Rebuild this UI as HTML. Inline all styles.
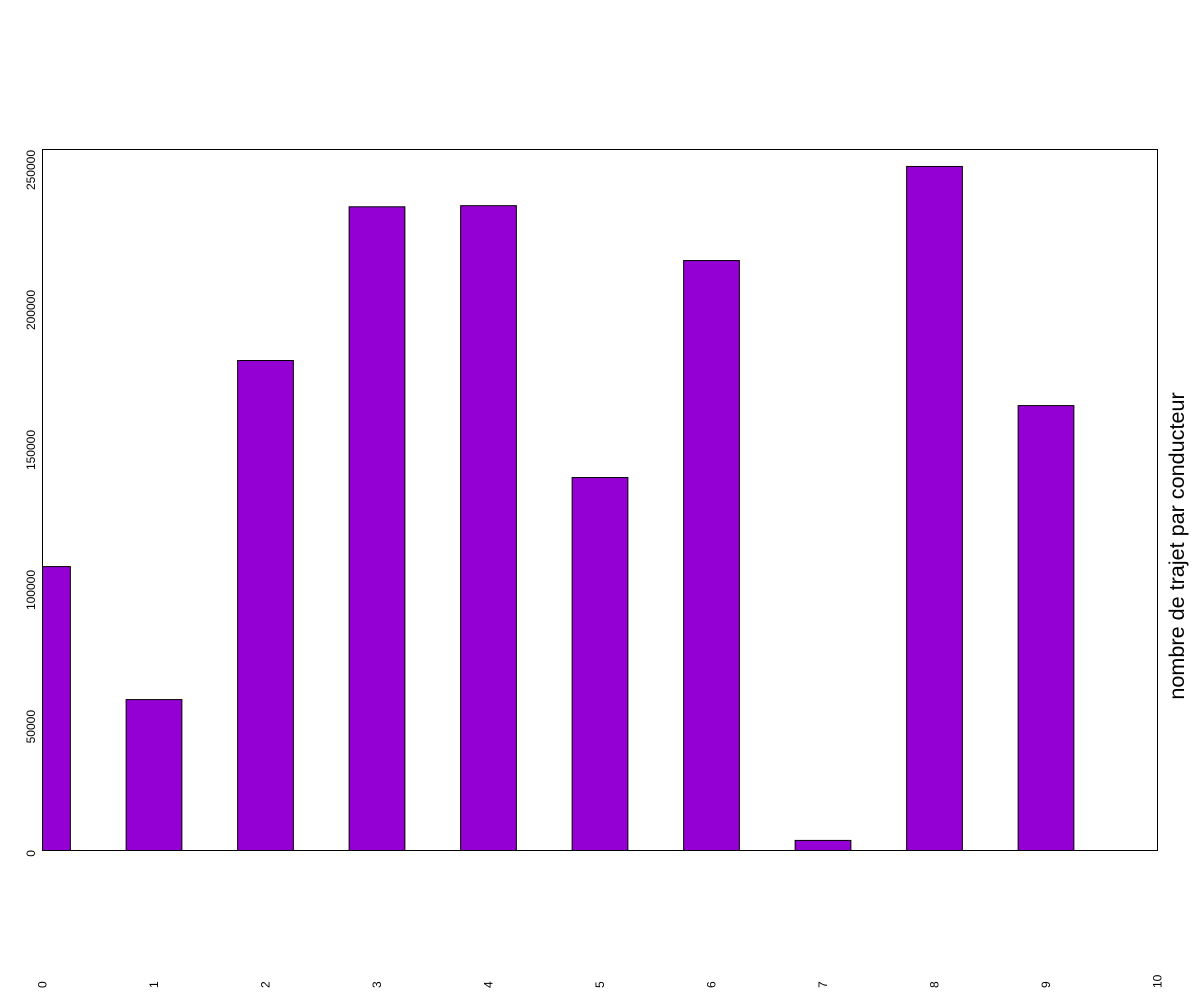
<!DOCTYPE html>
<html><head><meta charset="utf-8"><style>
html,body{margin:0;padding:0;background:#fff;}
svg{display:block;font-family:"Liberation Sans",sans-serif;}
</style></head><body>
<svg id="chart" width="1200" height="1000" viewBox="0 0 1200 1000" xmlns="http://www.w3.org/2000/svg">
<g id="bars"></g>
<g id="axes"></g>
<rect x="42.5" y="149.5" width="1115" height="701" fill="none" stroke="#000" stroke-width="1"/>
<text transform="translate(1184,546) rotate(-90)" text-anchor="middle" font-size="21.6">nombre de trajet par conducteur</text>
</svg>
<script>
const categories = [0,1,2,3,4,5,6,7,8,9];
const values = [101400,53900,175000,229900,230300,133200,210700,3600,244300,158900];
const yTicks = [0,50000,100000,150000,200000,250000];
const xTicks = [0,1,2,3,4,5,6,7,8,9,10];
const NS='http://www.w3.org/2000/svg';
const L=42.5,R=1157.5,T=150.5,B=850.5;
const xMin=0,xMax=10,yMax=250000;
const xs=v=>L+(v-xMin)/(xMax-xMin)*(R-L);
const ys=v=>B-v/yMax*(B-T);
const bw=0.5*(R-L)/(xMax-xMin);
const bars=document.getElementById('bars');
const axes=document.getElementById('axes');
categories.forEach((c,i)=>{
  let x0=Math.max(L,xs(c)-bw/2), x1=Math.min(R,xs(c)+bw/2);
  const r=document.createElementNS(NS,'rect');
  
  
  r.setAttribute('x',x0);r.setAttribute('y',ys(values[i]));
  r.setAttribute('width',x1-x0);r.setAttribute('height',B-ys(values[i]));
  r.setAttribute('fill','#9400d3');r.setAttribute('stroke','#000');r.setAttribute('stroke-width','1');
  bars.appendChild(r);
});
yTicks.forEach(t=>{
  const y=ys(t);
  const tx=document.createElementNS(NS,'text');
  
  
  tx.setAttribute('transform','translate(35,'+(y-0.5)+') rotate(-90)');
  tx.setAttribute('text-anchor','end');tx.setAttribute('font-size','12');
  tx.textContent=t;
  axes.appendChild(tx);
});
xTicks.forEach(t=>{
  const x=xs(t);
  const tx=document.createElementNS(NS,'text');
  
  
  tx.setAttribute('transform','translate('+(x+4)+',988) rotate(-90)');
  tx.setAttribute('text-anchor','start');tx.setAttribute('font-size','12');
  tx.textContent=t;
  axes.appendChild(tx);
});
</script>
</body></html>
